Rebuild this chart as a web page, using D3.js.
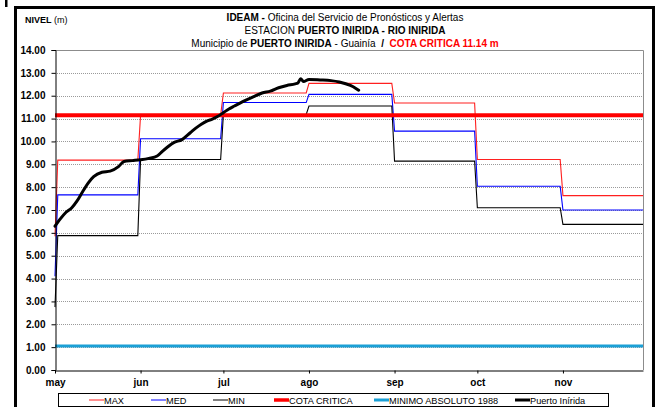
<!DOCTYPE html>
<html>
<head>
<meta charset="utf-8">
<script src="https://cdn.jsdelivr.net/npm/d3@7"></script>
<style>
  html, body { margin: 0; padding: 0; background: #fff; }
  svg { display: block; font-family: "Liberation Sans", Arial, sans-serif; }
</style>
</head>
<body>
<svg id="chart" width="658" height="407"></svg>
<script>
// Hydrological year window (May to November) and month tick labels
const year = 2013;
const monthLabels = ["may", "jun", "jul", "ago", "sep", "oct", "nov"];

// Historical monthly envelopes (m); first value is the opening day
const maxOpen = 5.85, medOpen = 4.10, minOpen = 2.75;
const maxLevels = [9.18, 11.15, 12.12, 12.54, 11.68, 9.21, 7.63];
const medLevels = [7.66, 10.12, 11.70, 12.06, 10.45, 8.04, 7.00];
const minLevels = [5.88, 9.21, 11.18, 11.55, 9.14, 7.10, 6.37];

// Reference levels (m)
const cotaCritica = 11.14;
const minimoAbsoluto1988 = 1.05;

// Observed stage at Puerto Inírida: [month (1-12), day, level m]
const puertoInirida = [
  [5, 1, 6.29], [5, 3, 6.62], [5, 5, 6.90], [5, 7, 7.09], [5, 9, 7.40],
  [5, 11, 7.80], [5, 13, 8.18], [5, 15, 8.46], [5, 18, 8.65], [5, 21, 8.70],
  [5, 24, 8.90], [5, 26, 9.12], [5, 29, 9.16], [6, 1, 9.20], [6, 4, 9.26],
  [6, 7, 9.36], [6, 9, 9.58], [6, 11, 9.78], [6, 13, 9.95], [6, 16, 10.08],
  [6, 19, 10.38], [6, 21, 10.58], [6, 23, 10.75], [6, 25, 10.89], [6, 27, 10.98],
  [6, 29, 11.10], [7, 1, 11.26], [7, 3, 11.42], [7, 5, 11.55], [7, 8, 11.74],
  [7, 12, 11.96], [7, 15, 12.12], [7, 18, 12.20], [7, 21, 12.35], [7, 24, 12.45],
  [7, 27, 12.52], [7, 28, 12.56], [7, 29, 12.74], [7, 30, 12.62], [8, 1, 12.71],
  [8, 5, 12.69], [8, 9, 12.66], [8, 12, 12.60], [8, 16, 12.45], [8, 18, 12.32],
  [8, 19, 12.24]
];

// Y axis tick values
const yTicks = d3.range(0, 14.01, 1);

const svg = d3.select("#chart");
const plot = { left: 55, right: 643, top: 50, bottom: 370 };

const dayOf = (m, d) => new Date(Date.UTC(year, m - 1, d));
const x = d3.scaleUtc()
  .domain([dayOf(5, 1), dayOf(11, 30)])
  .range([plot.left, plot.right]);
const y = d3.scaleLinear().domain([0, 14]).range([plot.bottom, plot.top]);

// Outer frame
svg.append("rect").attr("x", 5).attr("y", 0).attr("width", 2.5).attr("height", 7).attr("fill", "#000");
svg.append("rect")
  .attr("x", 15.5).attr("y", 7.5).attr("width", 638).attr("height", 430)
  .attr("fill", "none").attr("stroke", "#000").attr("stroke-width", 3);

// Titles
const title = svg.append("g").attr("font-size", 10).attr("text-anchor", "middle");
function titleLine(yPos, parts) {
  const t = title.append("text").attr("x", 345).attr("y", yPos);
  parts.forEach(p => {
    t.append("tspan").text(p[0])
      .attr("font-weight", p[1] ? "bold" : "normal")
      .attr("fill", p[2] || "#000");
  });
}
titleLine(20.5, [["IDEAM -", true], [" Oficina del Servicio de Pronósticos y Alertas", false]]);
titleLine(34, [["ESTACION ", false], ["PUERTO INIRIDA - RIO INIRIDA", true]]);
titleLine(46.5, [["Municipio de ", false], ["PUERTO INIRIDA", true], [" - Guainía\u00a0\u00a0", false], ["/\u00a0\u00a0", true],
  ["COTA CRITICA 11.14 m", true, "#ff0000"]]);

const nivel = svg.append("text").attr("x", 25).attr("y", 22.5).attr("font-size", 9);
nivel.append("tspan").text("NIVEL").attr("font-weight", "bold");
nivel.append("tspan").text(" (m)");

// Grid lines
svg.append("g").selectAll("line").data(yTicks.filter(v => v > 0 && v < 14)).join("line")
  .attr("x1", plot.left).attr("x2", plot.right)
  .attr("y1", d => Math.round(y(d)) + 0.5).attr("y2", d => Math.round(y(d)) + 0.5)
  .attr("stroke", "#9a9a9a").attr("stroke-width", 1).attr("stroke-dasharray", "1,1");
// Plot area border (top and right)
svg.append("path")
  .attr("d", `M${plot.left},${plot.top + 0.5}H${plot.right + 0.5}V${plot.bottom}`)
  .attr("fill", "none").attr("stroke", "#8c8c8c").attr("stroke-width", 1);

// Monthly step envelopes
const monthStarts = monthLabels.map((_, i) => dayOf(5 + i, 1));
function stepSeries(open, levels) {
  const pts = [[dayOf(5, 1), open]];
  levels.forEach((v, i) => {
    const first = i === 0 ? dayOf(5, 2) : monthStarts[i];
    const last = new Date(Date.UTC(year, 5 + i, 0)); // last day of the month
    pts.push([first, v], [last, v]);
  });
  return pts;
}
const line = d3.line().x(d => x(d[0])).y(d => y(d[1]));

const seriesStyle = [
  { data: stepSeries(maxOpen, maxLevels), color: "#ff2020", width: 1.1 },
  { data: stepSeries(medOpen, medLevels), color: "#0000ff", width: 1.1 },
  { data: stepSeries(minOpen, minLevels), color: "#000000", width: 1.1 }
];
seriesStyle.forEach(s => {
  svg.append("path").datum(s.data).attr("d", line)
    .attr("fill", "none").attr("stroke", s.color).attr("stroke-width", s.width);
});

// Critical and historical minimum levels
const fullSpan = v => [[dayOf(5, 1), v], [dayOf(11, 30), v]];
svg.append("path").datum(fullSpan(cotaCritica)).attr("d", line)
  .attr("fill", "none").attr("stroke", "#ff0000").attr("stroke-width", 4);
svg.append("path").datum(fullSpan(minimoAbsoluto1988)).attr("d", line)
  .attr("fill", "none").attr("stroke", "#1ba0d6").attr("stroke-width", 3.2);

// Observed stage
svg.append("path")
  .datum(puertoInirida.map(d => [dayOf(d[0], d[1]), d[2]]))
  .attr("d", line.curve(d3.curveMonotoneX))
  .attr("fill", "none").attr("stroke", "#000").attr("stroke-width", 3)
  .attr("stroke-linejoin", "round").attr("stroke-linecap", "round");

// Axes
const yAxis = svg.append("g").attr("transform", `translate(${plot.left + 0.5},0)`)
  .call(d3.axisLeft(y).tickValues(yTicks).tickFormat(d3.format(".2f")).tickSize(4).tickPadding(6));
yAxis.select(".domain").attr("stroke", "#000");
yAxis.selectAll("text").attr("font-size", 10).attr("font-weight", "bold").attr("fill", "#000")
  .attr("font-family", "Liberation Sans, Arial, sans-serif");

const xAxis = svg.append("g").attr("transform", `translate(0,${plot.bottom + 0.5})`)
  .call(d3.axisBottom(x).tickValues(monthStarts).tickFormat((d, i) => monthLabels[i]).tickSize(3).tickPadding(5).tickSizeOuter(0));
xAxis.select(".domain").attr("stroke", "#000");
xAxis.selectAll("text").attr("font-size", 10).attr("font-weight", "bold").attr("fill", "#000")
  .attr("font-family", "Liberation Sans, Arial, sans-serif");

// Legend
const legendItems = [
  { label: "MAX", color: "#ff2020", width: 1, x0: 89 },
  { label: "MED", color: "#0000ff", width: 1, x0: 151 },
  { label: "MIN", color: "#000000", width: 1, x0: 213 },
  { label: "COTA CRITICA", color: "#ff0000", width: 3.5, x0: 274 },
  { label: "MINIMO ABSOLUTO 1988", color: "#1ba0d6", width: 3, x0: 374 },
  { label: "Puerto Inírida", color: "#000000", width: 3, x0: 515 }
];
const legend = svg.append("g");
legend.append("rect").attr("x", 58.5).attr("y", 393.5).attr("width", 550).attr("height", 13)
  .attr("fill", "#fff").attr("stroke", "#000").attr("stroke-width", 1);
const li = legend.selectAll("g.item").data(legendItems).join("g").attr("class", "item");
li.append("line").attr("x1", d => d.x0).attr("x2", d => d.x0 + 15)
  .attr("y1", 400).attr("y2", 400)
  .attr("stroke", d => d.color).attr("stroke-width", d => d.width);
li.append("text").attr("x", d => d.x0 + 15).attr("y", 403.5)
  .attr("font-size", 9.2).text(d => d.label);
</script>
</body>
</html>
